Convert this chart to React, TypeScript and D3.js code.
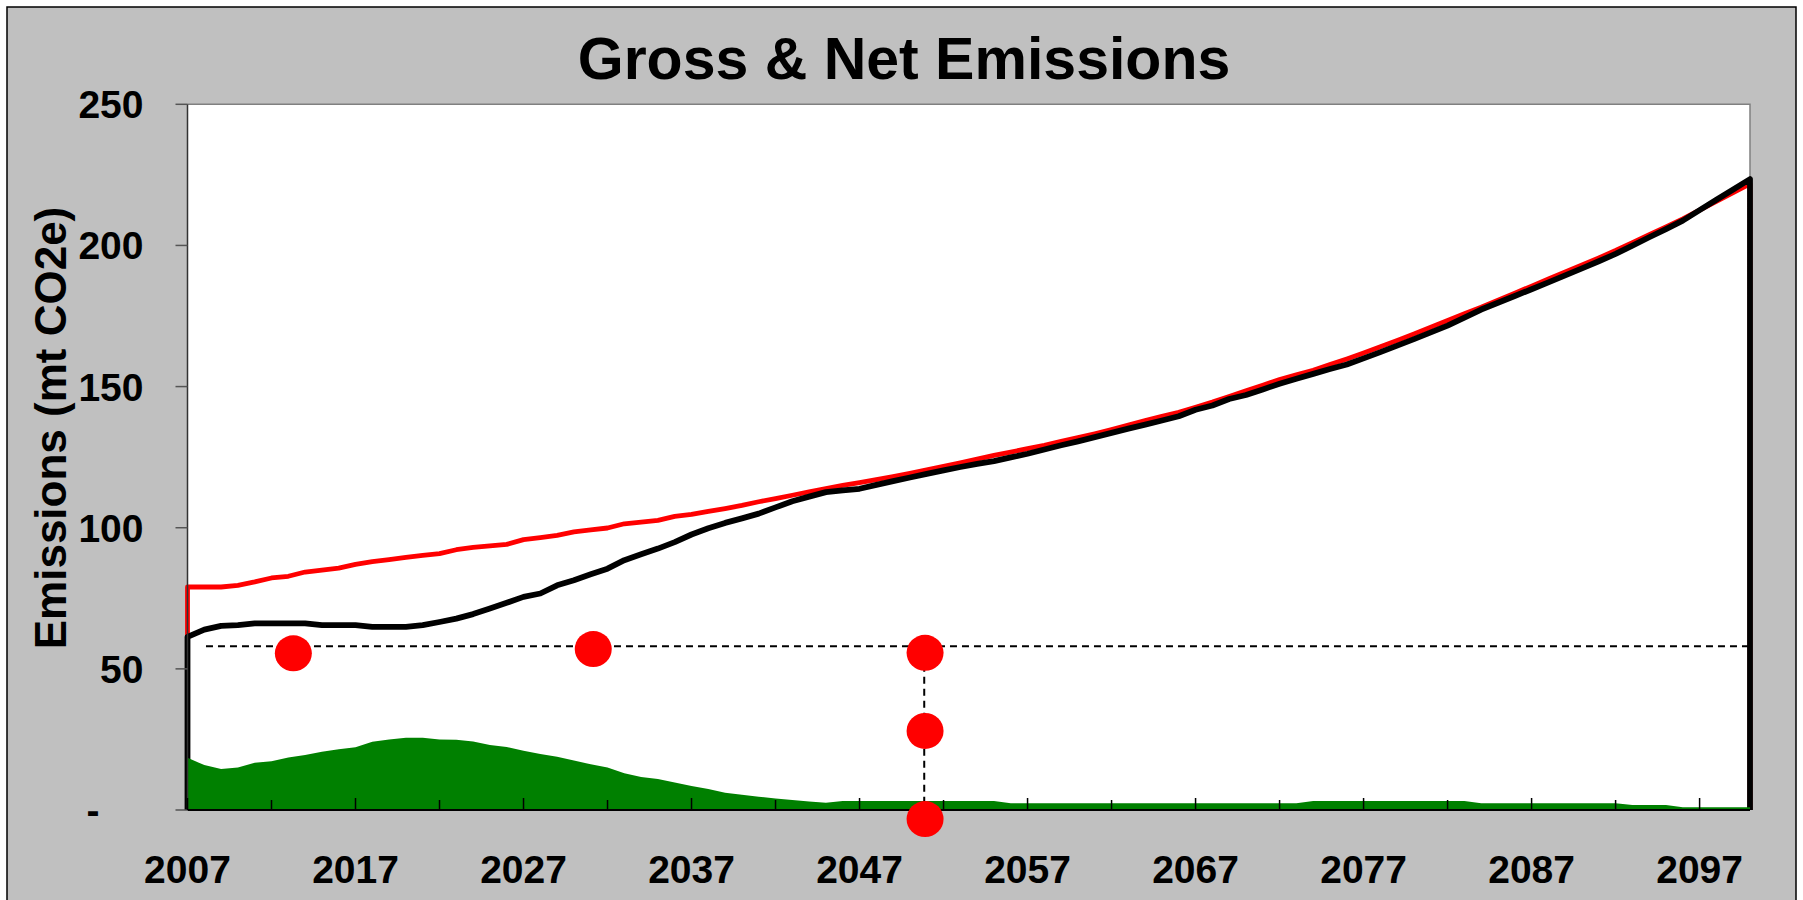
import React from "react";
import * as d3 from "d3";

const startYear = 2007;
const endYear = 2100;
const yTickValues = [0, 50, 100, 150, 200, 250];
const yTickLabels = ["-", "50", "100", "150", "200", "250"];
const xLabelYears = [2007, 2017, 2027, 2037, 2047, 2057, 2067, 2077, 2087, 2097];
const xTickYears = d3.range(2007, 2101, 5);

const grossEmissions = [
  79.0, 79.0, 79.0, 79.6, 80.8, 82.2, 82.8, 84.3, 85.0, 85.7,
  87.0, 88.0, 88.7, 89.5, 90.2, 90.8, 92.2, 93.0, 93.6, 94.1,
  95.8, 96.5, 97.3, 98.5, 99.2, 99.9, 101.4, 102.0, 102.6, 104.0,
  104.7, 105.8, 106.8, 107.9, 109.2, 110.3, 111.5, 112.7, 113.9, 115.0,
  116.0, 117.0, 118.1, 119.3, 120.5, 121.7, 123.0, 124.3, 125.6, 126.8,
  128.0, 129.2, 130.6, 131.9, 133.3, 134.8, 136.4, 138.0, 139.5, 140.9,
  142.7, 144.5, 146.5, 148.5, 150.5, 152.5, 154.2, 155.8, 157.8, 159.8,
  161.9, 164.1, 166.3, 168.6, 171.0, 173.4, 175.8, 178.1, 180.6, 183.1,
  185.6, 188.1, 190.6, 193.1, 195.6, 198.2, 201.0, 203.8, 206.6, 209.4,
  212.5, 215.6, 218.7, 221.8,
];

const netEmissions = [
  61.3, 63.9, 65.2, 65.5, 66.1, 66.1, 66.1, 66.1, 65.5, 65.5,
  65.5, 64.9, 64.9, 64.9, 65.5, 66.6, 67.8, 69.4, 71.4, 73.4,
  75.5, 76.7, 79.6, 81.4, 83.5, 85.5, 88.5, 90.6, 92.6, 94.9,
  97.6, 99.8, 101.7, 103.3, 105.0, 107.2, 109.4, 111.0, 112.6, 113.2,
  113.8, 115.2, 116.5, 117.8, 119.1, 120.3, 121.5, 122.6, 123.6, 124.9,
  126.2, 127.7, 129.2, 130.6, 132.1, 133.6, 135.1, 136.5, 138.0, 139.5,
  141.8, 143.3, 145.6, 147.0, 149.0, 151.0, 152.8, 154.5, 156.2, 157.8,
  160.0, 162.2, 164.5, 166.8, 169.2, 171.6, 174.4, 177.3, 179.7, 182.1,
  184.5, 186.9, 189.4, 191.9, 194.4, 197.0, 199.9, 202.9, 205.8, 208.8,
  212.5, 216.2, 219.8, 223.5,
];

const sinks = [
  18.5, 15.9, 14.5, 15.1, 16.7, 17.3, 18.6, 19.5, 20.6, 21.5,
  22.2, 24.2, 25.0, 25.6, 25.6, 25.0, 24.9, 24.3, 23.0, 22.3,
  21.0, 19.8, 18.9, 17.5, 16.2, 15.1, 13.0, 11.7, 11.0, 9.7,
  8.5, 7.4, 6.1, 5.4, 4.7, 4.1, 3.5, 3.0, 2.6, 3.2,
  3.2, 3.2, 3.2, 3.2, 3.2, 3.2, 3.2, 3.2, 3.2, 2.4,
  2.4, 2.4, 2.4, 2.4, 2.4, 2.4, 2.4, 2.4, 2.4, 2.4,
  2.4, 2.4, 2.4, 2.4, 2.4, 2.4, 2.4, 3.2, 3.2, 3.2,
  3.2, 3.2, 3.2, 3.2, 3.2, 3.2, 3.2, 2.4, 2.4, 2.4,
  2.4, 2.4, 2.4, 2.4, 2.4, 2.4, 1.8, 1.8, 1.8, 1.0,
  1.0, 1.0, 1.0, 1.0,
];

// reference dashed lines & marker dots
const targetLevel = 58;
const targetStartYear = 2008.1;
const markerYear = 2050.85;
const dotYears = [2013.3, 2031.15, 2050.9, 2050.9, 2050.9];
const dotValues = [55.5, 57.0, 55.7, 28.0, -3.2];

const years = d3.range(startYear, endYear + 1);

export default function App() {
  const W = 1803;
  const H = 900;
  const x = d3.scaleLinear().domain([startYear, endYear]).range([187.5, 1750]);
  const y = d3.scaleLinear().domain([0, 250]).range([810, 104.3]);
  const font = "'Liberation Sans', Arial, sans-serif";

  const outline = (vals: number[]) => {
    const pts: [number, number][] = [[x(startYear), y(0)]];
    vals.forEach((v, i) => pts.push([x(years[i]), y(v)]));
    pts.push([x(endYear), y(0)]);
    return d3.line()(pts) as string;
  };

  const sinkArea = d3
    .area<number>()
    .x((_, i) => x(years[i]))
    .y0(y(0))
    .y1((d) => y(d))(sinks) as string;

  const x0 = x(startYear);
  const x1 = x(endYear);
  const yTop = y(250);
  const yBot = y(0);

  return (
    <svg
      width={W}
      height={H}
      style={{ position: "absolute", left: 0, top: 0, display: "block", background: "#fff" }}
    >
      <rect x={7} y={7} width={1789} height={905} fill="#C0C0C0" stroke="#000" strokeWidth={1.5} />
      <text x={904} y={79} textAnchor="middle" fontFamily={font} fontWeight="bold" fontSize={59} fill="#000">
        Gross &amp; Net Emissions
      </text>

      {/* plot area */}
      <rect x={x0} y={yTop} width={x1 - x0} height={yBot - yTop} fill="#fff" />
      <path d={`M${x0},${yTop}L${x1},${yTop}L${x1},${yBot}`} fill="none" stroke="#808080" strokeWidth={1.5} />

      {/* series outlines (area charts with no fill) */}
      <path d={outline(grossEmissions)} fill="none" stroke="#FF0000" strokeWidth={4.8} strokeLinejoin="round" />
      <path d={outline(netEmissions)} fill="none" stroke="#000" strokeWidth={5.8} strokeLinejoin="round" />
      <path d={sinkArea} fill="#008000" />

      {/* dashed reference lines */}
      <line
        x1={x(targetStartYear)}
        x2={x1}
        y1={y(targetLevel)}
        y2={y(targetLevel)}
        stroke="#000"
        strokeWidth={2}
        strokeDasharray="7,5"
      />
      <line
        x1={x(markerYear)}
        x2={x(markerYear)}
        y1={y(dotValues[2])}
        y2={y(dotValues[4])}
        stroke="#000"
        strokeWidth={2}
        strokeDasharray="7,5"
      />

      {/* axes */}
      <line x1={x0} x2={x0} y1={yTop} y2={yBot} stroke="#333" strokeWidth={1.5} />
      <line x1={x0} x2={x1} y1={yBot} y2={yBot} stroke="#000" strokeWidth={2} />
      {yTickValues.map((v, i) => (
        <g key={"yt" + v}>
          <line x1={x0 - 12} x2={x0} y1={y(v)} y2={y(v)} stroke="#555" strokeWidth={1.5} />
          <text
            x={x0 - 44 - (v === 0 ? 44 : 0)}
            y={y(v) + 14}
            textAnchor="end"
            fontFamily={font}
            fontWeight="bold"
            fontSize={39}
            fill="#000"
          >
            {yTickLabels[i]}
          </text>
        </g>
      ))}
      {xTickYears.map((yr) => (
        <line
          key={"xt" + yr}
          x1={x(yr)}
          x2={x(yr)}
          y1={yBot}
          y2={yBot - (xLabelYears.includes(yr) ? 12 : 10)}
          stroke="#000"
          strokeWidth={1.5}
        />
      ))}
      {xLabelYears.map((yr) => (
        <text
          key={"xl" + yr}
          x={x(yr)}
          y={883}
          textAnchor="middle"
          fontFamily={font}
          fontWeight="bold"
          fontSize={39}
          fill="#000"
        >
          {yr}
        </text>
      ))}

      {/* marker dots */}
      {dotYears.map((yr, i) => (
        <ellipse key={"d" + i} cx={x(yr)} cy={y(dotValues[i])} rx={18.5} ry={18} fill="#FF0000" />
      ))}

      <text
        transform={`translate(66,428) rotate(-90)`}
        textAnchor="middle"
        fontFamily={font}
        fontWeight="bold"
        fontSize={44}
        fill="#000"
      >
        Emissions (mt CO2e)
      </text>
    </svg>
  );
}
